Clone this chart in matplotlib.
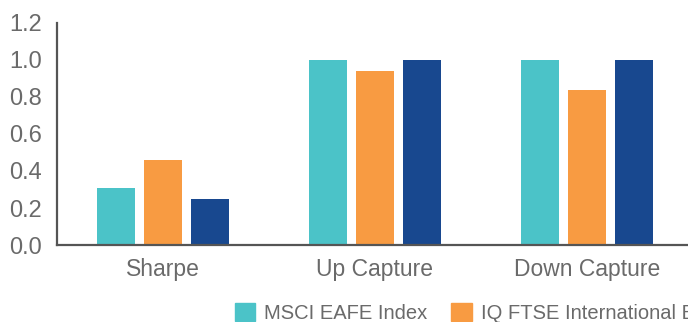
import numpy as np
import matplotlib.pyplot as plt
from matplotlib.patches import Patch

# data
categories = ['Sharpe', 'Up Capture', 'Down Capture']
msci_eafe = [0.31, 1.00, 1.00]
iq_ftse = [0.46, 0.94, 0.84]
third_series = [0.25, 1.00, 1.00]
series_names = ['MSCI EAFE Index', 'IQ FTSE International Equity Currency Neutral ETF', 'IQ 50 Percent Hedged FTSE International ETF']
colors = ['#4bc3c8', '#f89b42', '#18488f']
yticks = [0.0, 0.2, 0.4, 0.6, 0.8, 1.0, 1.2]

plt.rcParams['font.family'] = ['Liberation Sans', 'DejaVu Sans']
text_color = '#6a6a6a'

fig = plt.figure(figsize=(6.88, 3.22), dpi=100)
# axes run slightly past the right edge, the original was cropped there
ax = fig.add_axes([0.083, 0.239, 0.924, 0.69])

x = np.arange(len(categories))
step = 0.222
width = 0.18
for i, (vals, c) in enumerate(zip([msci_eafe, iq_ftse, third_series], colors)):
    ax.bar(x + (i - 1) * step, vals, width=width, color=c, label=series_names[i])

ax.set_xlim(-0.5, len(categories) - 0.5)
ax.set_ylim(0, 1.2)
ax.set_yticks(yticks)
ax.set_yticklabels(['%.1f' % v for v in yticks])
ax.set_xticks(x)
ax.set_xticklabels(categories)
ax.tick_params(length=0, colors=text_color)
ax.tick_params(axis='x', labelsize=16.5, pad=9)
ax.tick_params(axis='y', labelsize=17, pad=11)

for s in ['top', 'right']:
    ax.spines[s].set_visible(False)
for s in ['left', 'bottom']:
    ax.spines[s].set_color('#555555')
    ax.spines[s].set_linewidth(1.6)

handles = [Patch(color=c) for c in colors]
fig.legend(handles, series_names, loc='lower left', bbox_to_anchor=(0.315, -0.06),
           ncol=3, frameon=False, fontsize=14.5, labelcolor=text_color,
           handlelength=1.0, handleheight=1.0, handletextpad=0.45, columnspacing=1.2)

fig.savefig('out.png', dpi=100)
